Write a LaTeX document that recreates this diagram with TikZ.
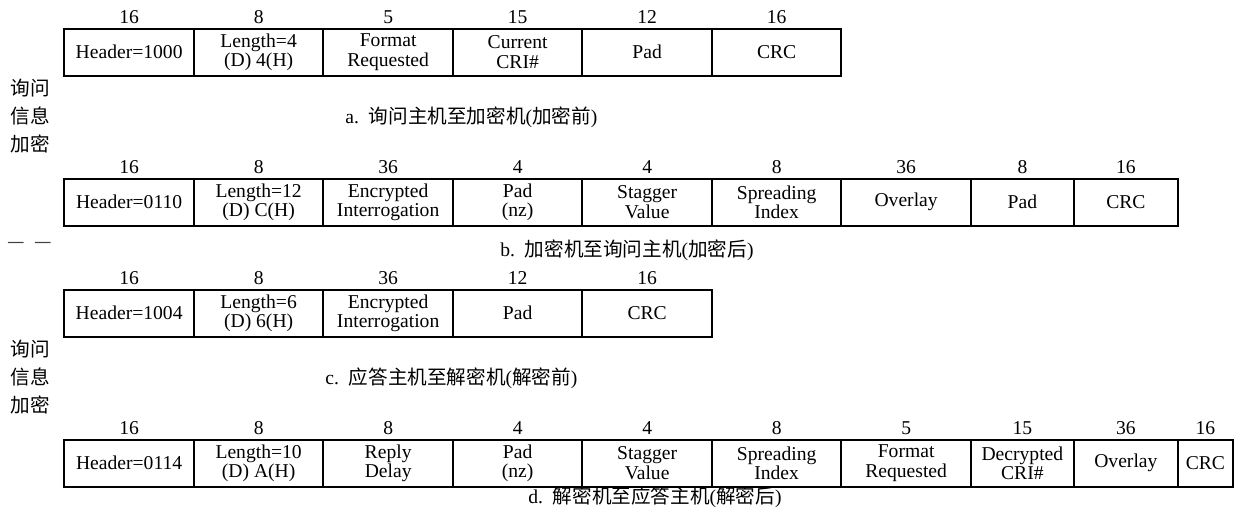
\documentclass[tikz,border=0pt]{standalone}
\usepackage{fontspec}
\setmainfont{Liberation Serif}
\newfontfamily\cjk{Noto Sans CJK SC}
\newcommand{\zh}[1]{{\cjk #1}}
% two centred lines in one cell (no \\ inside the matrix)
\newcommand{\twol}[2]{\vbox{\baselineskip=9.6pt\lineskiplimit=-20pt\halign{\hfil##\hfil\cr#1\cr#2\cr}}}
\usepackage{tikz}
\usetikzlibrary{matrix,positioning}

\begin{document}
\begin{tikzpicture}[x=0.5pt,y=-0.5pt]
        \tikzset{
            style cell/.style={draw,line width=1pt,minimum width=64.75pt,minimum height=23.5pt,
                inner sep=0pt,font=\fontsize{9.8}{9.6}\selectfont},
            style bits/.style={inner sep=0pt,text height=6.8pt,text depth=0pt,font=\fontsize{9.8}{10}\selectfont},
            style pad/.style={minimum width=51.5pt},
            style ovl/.style={minimum width=52pt},
            style crc/.style={minimum width=27.5pt},
            style frame/.style={
                matrix of nodes,
                inner sep=0pt,
                column sep=-1pt,
                row sep=2pt,
                nodes={anchor=center},
                row 1/.style={nodes={style bits}},
                row 2/.style={nodes={style cell}},
                anchor=south west
            },
            style caption/.style={anchor=west,inner sep=0pt,font=\fontsize{9.8}{10}\selectfont},
            style side/.style={align=center,inner sep=0pt,font={\cjk\fontsize{9.8}{13.8}\selectfont}}
        };
        \useasboundingbox (0,0) rectangle (1251,511);
        % a
        \matrix[style frame] (msgA) at (63,77) {
            16 & 8 & 5 & 15 & 12 & 16 \\
            Header=1000 & \twol{Length=4}{(D) 4(H)} & \twol{Format}{Requested} & \twol{Current}{CRI\#} & Pad & CRC \\
        };
        % b
        \matrix[
            style frame,
            row 2 column 8/.style={nodes={style pad}},
            row 2 column 9/.style={nodes={style ovl}}
        ] (msgB) at (63,227) {
            16 & 8 & 36 & 4 & 4 & 8 & 36 & 8 & 16 \\
            Header=0110 & \twol{Length=12}{(D) C(H)} & \twol{Encrypted}{Interrogation} & \twol{Pad}{(nz)} & \twol{Stagger}{Value} & \twol{Spreading}{Index} & Overlay & Pad & CRC \\
        };
        % c
        \matrix[style frame] (msgC) at (63,338) {
            16 & 8 & 36 & 12 & 16 \\
            Header=1004 & \twol{Length=6}{(D) 6(H)} & \twol{Encrypted}{Interrogation} & Pad & CRC \\
        };
        % d
        \matrix[
            style frame,
            row 2 column 8/.style={nodes={style pad}},
            row 2 column 9/.style={nodes={style ovl}},
            row 2 column 10/.style={nodes={style crc}}
        ] (msgD) at (63,488) {
            16 & 8 & 8 & 4 & 4 & 8 & 5 & 15 & 36 & 16 \\
            Header=0114 & \twol{Length=10}{(D) A(H)} & \twol{Reply}{Delay} & \twol{Pad}{(nz)} & \twol{Stagger}{Value} & \twol{Spreading}{Index} & \twol{Format}{Requested} & \twol{Decrypted}{CRI\#} & Overlay & CRC \\
        };
        \node[style caption] (capA) at (345,117) {a.\ \ \zh{询问主机至加密机}(\zh{加密前})};
        \node[style caption] (capB) at (500,250) {b.\ \ \zh{加密机至询问主机}(\zh{加密后})};
        \node[style caption] (capC) at (325,378) {c.\ \ \zh{应答主机至解密机}(\zh{解密前})};
        \node[style caption] (capD) at (528,497) {d.\ \ \zh{解密机至应答主机}(\zh{解密后})};
        \node[style side] (sideA) at (30,116) {询问\\信息\\加密};
        \node[style side] (sideC) at (30,377) {询问\\信息\\加密};
        \node[style side,text=black!75] (dash) at (30,245) {—\hspace{5pt}—};
\end{tikzpicture}
\end{document}
